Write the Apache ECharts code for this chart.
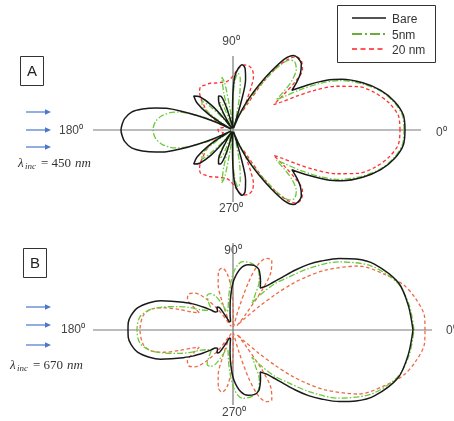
<!DOCTYPE html>
<html>
<head>
<meta charset="utf-8">
<script src="https://cdn.jsdelivr.net/npm/echarts@6/dist/echarts.min.js"></script>
<style>
  html, body { margin: 0; padding: 0; background: #ffffff; }
  #chart { width: 454px; height: 421px; }
</style>
</head>
<body>
<div id="chart"></div>
<script>
// Far-field scattering patterns, upper half-plane (0..180 deg), [angle deg, intensity a.u.]
// The patterns are symmetric about the incidence axis; the lower half reuses the same values.

// Panel A: lambda_inc = 450 nm
const bareA = [[0,172],[5,171],[10,164],[15,153],[20,138],[25,120],[28,106],[31,88],[34,71],[37,80],[40,88],[44,95],[48,97],[51,96],[54,88],[57,70],[60,52],[63,36],[66,22],[69,10],[72,2],[74,32],[76,52],[79,63],[82,66],[85,62],[88,54],[90,38],[92,14],[95,2],[100,2],[104,12],[107,28],[110,36],[113,37],[116,33],[119,22],[122,8],[125,2],[128,16],[131,33],[135,47],[139,52],[143,45],[147,30],[150,12],[153,2],[156,22],[158,38],[160,55],[162,70],[164,80],[167,93],[170,103],[174,109],[177,111],[180,112]];
const nm5A = [[0,171],[5,170],[10,163],[15,152],[20,136],[25,117],[28,100],[31,78],[33,62],[35,53],[37,63],[40,77],[44,88],[48,92],[51,90],[54,80],[57,62],[60,45],[63,30],[66,16],[69,6],[72,1],[76,12],[79,35],[82,52],[85,57],[88,48],[90,30],[92,8],[95,1],[98,20],[100,48],[102,54],[104,38],[106,12],[108,4],[111,20],[114,30],[118,30],[121,18],[124,4],[127,2],[130,14],[134,32],[137,42],[141,40],[145,27],[148,10],[151,2],[153,15],[156,30],[159,45],[162,58],[165,66],[169,73],[174,78],[180,80]];
const nm20A = [[0,167],[5,166],[10,158],[15,146],[19,133],[23,112],[26,90],[28,72],[30,56],[32,48],[35,62],[38,80],[41,92],[45,97],[49,97],[52,90],[55,76],[58,55],[61,30],[63,22],[65,32],[67,46],[69,57],[72,63],[76,66],[80,66],[84,63],[88,57],[92,52],[97,49],[103,49],[110,50],[116,52],[122,53],[127,54],[131,51],[135,46],[139,39],[143,34],[148,25],[153,17],[158,12],[165,10],[172,14],[180,15]];

// Panel B: lambda_inc = 670 nm
const bareB = [[0,180],[8,177],[16,172],[25,156],[30,142],[34,128],[38,112],[41,100],[44,86],[47,72],[50,62],[53,55],[57,50],[60,55],[63,60],[67,66],[72,68],[77,67],[83,62],[89,50],[93,37],[97,24],[101,15],[106,9],[112,9],[117,14],[121,26],[125,28],[130,24],[134,25],[138,30],[142,37],[147,48],[151,57],[155,68],[158,78],[162,88],[167,98],[172,103],[176,105],[180,105]];
const nm5B = [[0,181],[8,178],[16,171],[25,152],[33,125],[39,98],[44,75],[48,62],[52,45],[55,33],[58,42],[62,56],[67,65],[74,69],[82,69],[86,65],[90,56],[94,43],[98,32],[103,22],[108,19],[112,26],[117,38],[122,43],[127,43],[132,36],[137,30],[142,32],[148,38],[153,50],[157,60],[162,74],[166,85],[172,94],[180,96]];
const nm20B = [[0,192],[4,192],[10,185],[15,176],[20,162],[27,141],[33,110],[36,90],[38,75],[40,55],[42,35],[45,14],[48,6],[51,20],[54,50],[57,70],[61,80],[65,79],[69,70],[72,50],[75,22],[79,5],[85,3],[89,15],[92,40],[96,57],[100,63],[104,60],[108,48],[111,30],[114,12],[118,4],[122,8],[126,25],[131,42],[136,53],[141,57],[146,55],[150,45],[153,38],[156,44],[159,57],[162,72],[166,85],[171,91],[180,93]];

const seriesNames = ['Bare', '5nm', '20 nm'];
const angleTicks = ['0⁰', '90⁰', '180⁰', '270⁰'];
const wavelengths = ['450', '670'];
const panelTags = ['A', 'B'];

// reach of the drawn reference axes (right, up, left, down) per panel
const axisReachA = [188, 74, 140, 72];
const axisReachB = [199, 87, 140, 75];

// full 0..360 outline: upper half, then the same values mirrored below the axis
function outline(half) {
  const upper = half.map(p => [p[1], p[0]]);
  const lower = half.slice(0, -1).reverse().map(p => [p[1], 360 - p[0]]);
  return upper.concat(lower);
}

const chart = echarts.init(document.getElementById('chart'), null, { renderer: 'canvas' });

const styles = {
  bare: { color: '#1a1a1a', width: 1.5, type: 'solid' },
  g: { color: '#6cc93a', width: 1.3, type: [6, 2, 1.5, 2] },
  rA: { color: '#ff3030', width: 1.3, type: [3.5, 2.5] },
  rB: { color: '#ee6a45', width: 1.3, type: [3.5, 2.5] }
};

function curve(name, half, pi, st, z) {
  return {
    name: name, type: 'line', coordinateSystem: 'polar', polarIndex: pi,
    data: outline(half), showSymbol: false, symbol: 'none', smooth: 0.3,
    silent: true, z: z, animation: false,
    lineStyle: { color: st.color, width: st.width, type: st.type }
  };
}

function crossAxes(reach, pi) {
  const mk = pts => ({
    type: 'line', coordinateSystem: 'polar', polarIndex: pi, data: pts,
    showSymbol: false, symbol: 'none', silent: true, z: 1, animation: false,
    lineStyle: { color: '#7a7a7a', width: 1.2 }
  });
  return [
    mk([[reach[2], 180], [0, 0], [reach[0], 0]]),
    mk([[reach[1], 90], [0, 0], [reach[3], 270]])
  ];
}

const labelFont = '12px "Liberation Sans", Arial, sans-serif';
function txt(x, y, s, align, font, fill) {
  return { type: 'text', x: x, y: y, silent: true,
    style: { text: s, font: font || labelFont, fill: fill || '#444', textAlign: align || 'left', textVerticalAlign: 'middle' } };
}

function arrows(x0, ys) {
  return ys.map(y => ({
    type: 'group', x: x0, y: y, silent: true,
    children: [
      { type: 'line', shape: { x1: 0, y1: 0, x2: 20, y2: 0 }, style: { stroke: '#4a78cc', lineWidth: 1.2 } },
      { type: 'polygon', shape: { points: [[19, -2.8], [25, 0], [19, 2.8]] }, style: { fill: '#4a78cc' } }
    ]
  }));
}

function lambdaLabel(x, y, val) {
  const serif = '"Liberation Serif", "DejaVu Serif", serif';
  return [
    txt(x, y, 'λ', 'left', 'italic 13px ' + serif, '#333'),
    txt(x + 7, y + 3, 'inc', 'left', 'italic 9px ' + serif, '#333'),
    txt(x + 23, y, '= ' + val, 'left', '13px ' + serif, '#333'),
    txt(x + 57, y, 'nm', 'left', 'italic 13px ' + serif, '#333')
  ];
}

function tagBox(x, y, w, h, s) {
  return [
    { type: 'rect', silent: true, shape: { x: x, y: y, width: w, height: h },
      style: { fill: 'none', stroke: '#333', lineWidth: 1 } },
    txt(x + w / 2, y + h / 2 + 1, s, 'center', '15px "Liberation Sans", Arial, sans-serif', '#222')
  ];
}

const legendItems = [
  { y: 18, st: { stroke: '#1a1a1a', lineWidth: 1.6 } },
  { y: 34, st: { stroke: '#6aae3a', lineWidth: 2, lineDash: [10, 3, 2, 3] } },
  { y: 49, st: { stroke: '#ff2020', lineWidth: 1.4, lineDash: [5, 3.5] } }
];

const graphics = [
  // legend
  { type: 'rect', silent: true, shape: { x: 337.5, y: 5.5, width: 98, height: 57 },
    style: { fill: '#fff', stroke: '#333', lineWidth: 1 } },
  ...legendItems.map(it => ({ type: 'line', silent: true, shape: { x1: 352, y1: it.y, x2: 386, y2: it.y }, style: it.st })),
  ...seriesNames.map((n, i) => txt(392, legendItems[i].y + 2, n, 'left', '12px "Liberation Sans", Arial, sans-serif', '#333')),
  // panel A annotations
  ...tagBox(20.5, 56.5, 23, 29, panelTags[0]),
  ...arrows(26, [112, 130, 147]),
  txt(231, 42, angleTicks[1], 'center'),
  txt(59, 131, angleTicks[2], 'left'),
  txt(436, 133, angleTicks[0], 'left'),
  txt(231, 209, angleTicks[3], 'center'),
  ...lambdaLabel(18, 164, wavelengths[0]),
  // panel B annotations
  ...tagBox(23.5, 248.5, 23, 29, panelTags[1]),
  ...arrows(26, [307, 325, 345]),
  txt(233, 251, angleTicks[1], 'center'),
  txt(61, 330, angleTicks[2], 'left'),
  txt(446, 331, angleTicks[0], 'left'),
  txt(234, 413, angleTicks[3], 'center'),
  ...lambdaLabel(10, 366, wavelengths[1])
];

const option = {
  backgroundColor: '#ffffff',
  animation: false,
  polar: [
    { center: [233, 130], radius: 200 },
    { center: [233, 330], radius: 200 }
  ],
  angleAxis: [0, 1].map(i => ({ polarIndex: i, type: 'value', min: 0, max: 360, startAngle: 0, clockwise: false, show: false })),
  radiusAxis: [0, 1].map(i => ({ polarIndex: i, type: 'value', min: 0, max: 200, show: false })),
  series: [
    ...crossAxes(axisReachA, 0),
    ...crossAxes(axisReachB, 1),
    curve(seriesNames[2], nm20A, 0, styles.rA, 3),
    curve(seriesNames[1], nm5A, 0, styles.g, 4),
    curve(seriesNames[0], bareA, 0, styles.bare, 5),
    curve(seriesNames[2], nm20B, 1, styles.rB, 3),
    curve(seriesNames[1], nm5B, 1, styles.g, 4),
    curve(seriesNames[0], bareB, 1, styles.bare, 5)
  ],
  graphic: graphics
};

chart.setOption(option);
</script>
</body>
</html>
